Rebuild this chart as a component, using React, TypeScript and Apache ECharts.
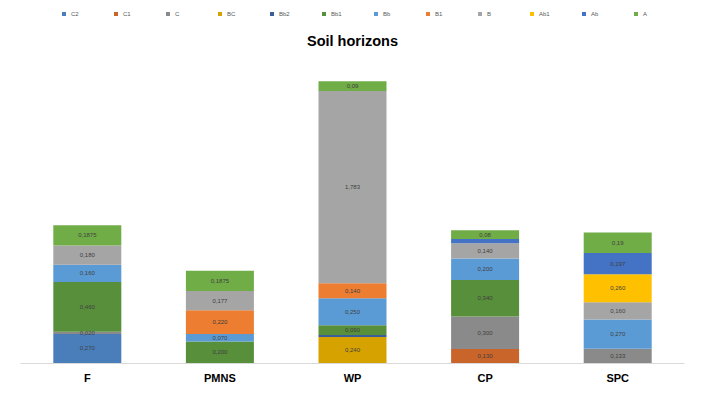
import React, { useEffect, useRef } from "react";
import * as echarts from "echarts";

const categories = ["F", "PMNS", "WP", "CP", "SPC"];
const seriesNames = ["C2", "C1", "C", "BC", "Bb2", "Bb1", "Bb", "B1", "B", "Ab1", "Ab", "A"];

const C2 = [0.27, null, null, null, null];
const C1 = [null, null, null, 0.13, null];
const C = [0.02, null, null, 0.3, 0.133];
const BC = [null, null, 0.24, null, null];
const Bb2 = [null, null, 0.02, null, null];
const Bb1 = [0.46, 0.2, 0.09, 0.34, null];
const Bb = [0.16, 0.07, 0.25, 0.2, 0.27];
const B1 = [null, 0.22, 0.14, null, null];
const B = [0.18, 0.177, 1.783, 0.14, 0.16];
const Ab1 = [null, null, null, null, 0.26];
const Ab = [null, null, null, 0.04, 0.197];
const A = [0.1875, 0.1875, 0.09, 0.08, 0.19];

const seriesData = [C2, C1, C, BC, Bb2, Bb1, Bb, B1, B, Ab1, Ab, A];
const colors = [
  "#4A7EBB", "#C9652A", "#8A8A8A", "#D6A200", "#3A5E9C", "#588F3B",
  "#5B9BD5", "#ED7D31", "#A5A5A5", "#FFC000", "#4472C4", "#70AD47",
];

export default function App() {
  const ref = useRef<HTMLDivElement>(null);
  useEffect(() => {
    if (!ref.current) return;
    const chart = echarts.init(ref.current, null, { renderer: "svg" });
    const fmt = (name: string) => (p: any) => {
      const v = p.value as number;
      if (v == null) return "";
      if (name === "Bb2") return "";
      if (name === "Ab" && v < 0.1) return "";
      const s = name === "A" ? String(v) : v.toFixed(3);
      return s.replace(".", ",");
    };
    chart.setOption({
      animation: false,
      color: colors,
      title: {
        text: "Soil horizons",
        left: "center",
        top: 28,
        textStyle: { fontFamily: "Liberation Sans", fontSize: 14.5, fontWeight: "bold", color: "#000" },
      },
      legend: seriesNames.map((name, i) => ({
        data: [name],
        left: 62 + 52 * i,
        top: 11,
        icon: "rect",
        itemWidth: 4,
        itemHeight: 4,
        padding: 0,
        textStyle: { fontFamily: "Liberation Sans", fontSize: 6, color: "#595959" },
      })),
      grid: { left: 21, right: 21, top: 61, bottom: 34 },
      xAxis: {
        type: "category",
        data: categories,
        axisLine: { lineStyle: { color: "#D9D9D9", width: 1 } },
        axisTick: { show: false },
        axisLabel: { fontFamily: "Liberation Sans", fontSize: 11, fontWeight: "bold", color: "#000", margin: 9 },
      },
      yAxis: {
        type: "value",
        min: 0,
        max: 2.8,
        show: false,
        splitLine: { show: false },
      },
      series: seriesNames.map((name, i) => ({
        name,
        type: "bar",
        stack: "total",
        barWidth: 68,
        data: seriesData[i],
        label: {
          show: true,
          position: "inside",
          fontFamily: "Liberation Sans",
          fontSize: 6,
          color: "#404040",
          formatter: fmt(name),
        },
      })),
    });
    return () => chart.dispose();
  }, []);
  return <div ref={ref} style={{ width: 705, height: 397, position: "absolute", left: 0, top: 0 }} />;
}
